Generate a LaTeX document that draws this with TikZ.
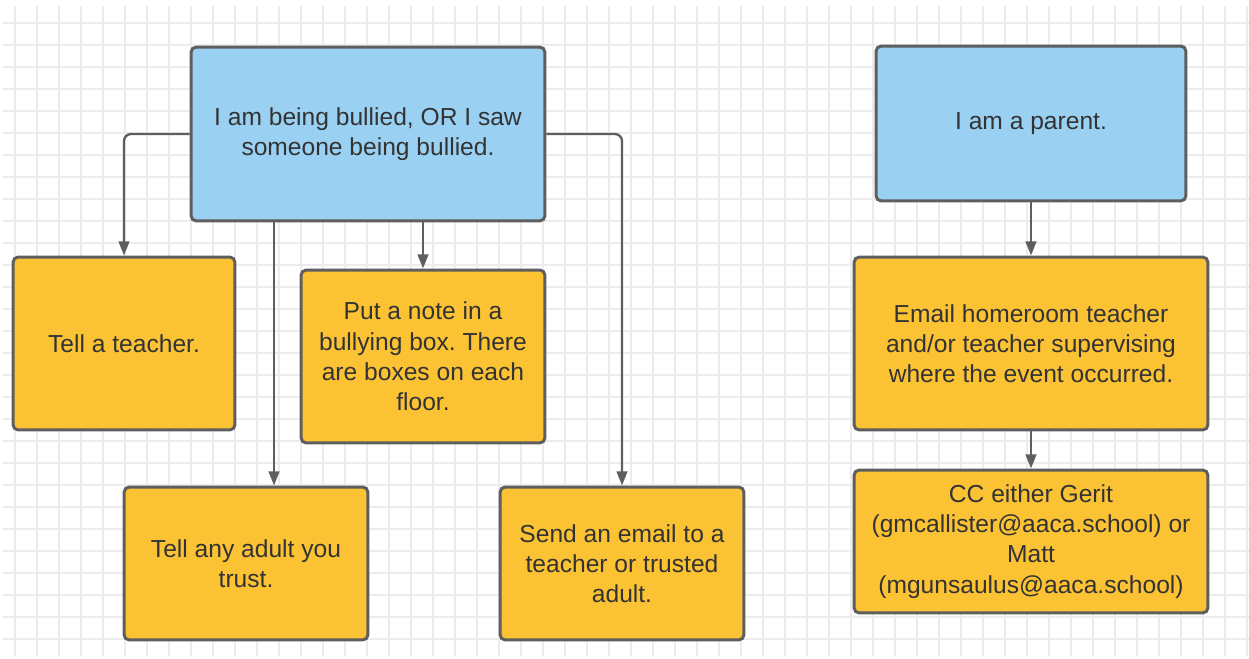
\documentclass[tikz,border=0pt]{standalone}
\usepackage{fontspec}
\setmainfont{Liberation Sans}
\usetikzlibrary{arrows.meta}

\definecolor{skyblue}{HTML}{9AD1F2}
\definecolor{lucidorange}{HTML}{FBC334}
\definecolor{edgegray}{HTML}{5E5E5E}
\definecolor{inkgray}{HTML}{333333}
\definecolor{gridgray}{HTML}{ECECEC}

\tikzset{
  box/.style={draw=edgegray, line width=1.7pt, rounded corners=3pt, align=center,
    text=inkgray, font=\fontsize{14}{17.2}\selectfont\frenchspacing, inner sep=0pt},
  bluebox/.style={box, fill=skyblue},
  orangebox/.style={box, fill=lucidorange},
  arr/.style={draw=edgegray, line width=1.3pt, rounded corners=4pt,
    -{Triangle[length=8pt, width=6pt]}}
}

\begin{document}
\begin{tikzpicture}[x=0.02cm, y=-0.02cm]
\useasboundingbox (0,0) rectangle (1249,659);
\fill[white] (0,0) rectangle (1249,659);
% background grid
\foreach \gx in {15,37,...,1249} \draw[gridgray, line width=0.8pt] (\gx,6) -- (\gx,656);
\foreach \gy in {23,45,...,656} \draw[gridgray, line width=0.8pt] (3,\gy) -- (1249,\gy);

% student side
\node[bluebox, minimum width=7.08cm, minimum height=3.48cm] (bullied) at (368,134)
  {I am being bullied, OR I saw\\someone being bullied.};
\node[orangebox, minimum width=4.44cm, minimum height=3.46cm] (teacher) at (124,343.5)
  {Tell a teacher.};
\node[orangebox, minimum width=4.88cm, minimum height=3.46cm] (note) at (423,356.5)
  {Put a note in a\\bullying box. There\\are boxes on each\\floor.};
\node[orangebox, minimum width=4.88cm, minimum height=3.06cm] (adult) at (246,563.5)
  {Tell any adult you\\trust.};
\node[orangebox, minimum width=4.88cm, minimum height=3.06cm] (email) at (622,563.5)
  {Send an email to a\\teacher or trusted\\adult.};

% parent side
\node[bluebox, minimum width=6.2cm, minimum height=3.1cm] (parent) at (1031,123.5)
  {I am a parent.};
\node[orangebox, minimum width=7.08cm, minimum height=3.46cm] (homeroom) at (1031,343.5)
  {Email homeroom teacher\\and/or teacher supervising\\where the event occurred.};
\node[orangebox, minimum width=7.08cm, minimum height=2.86cm] (cc) at (1031,541.5)
  {CC either Gerit\\(gmcallister@aaca.school) or\\Matt\\(mgunsaulus@aaca.school)};

% connectors
\draw[arr] (bullied.west) -| (teacher.north);
\draw[arr] ([xshift=-1.88cm]bullied.south) coordinate (split) -- (split |- adult.north);
\draw[arr] (bullied.south -| note.north) -- (note.north);
\draw[arr] (bullied.east) -| (email.north);
\draw[arr] (parent) -- (homeroom);
\draw[arr] (homeroom) -- (cc);
\end{tikzpicture}
\end{document}
